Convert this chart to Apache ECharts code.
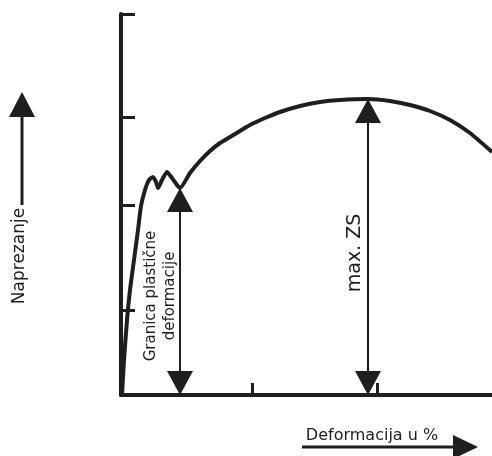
<!DOCTYPE html>
<html>
<head>
<meta charset="utf-8">
<script src="https://cdn.jsdelivr.net/npm/echarts@6/dist/echarts.min.js"></script>
<style>html,body{margin:0;padding:0;background:#fff}#c{width:492px;height:456px}</style>
</head>
<body>
<div id="c"></div>
<script>
// Deformation (x) and stress (y) in arbitrary units
const strain = [1,3,6,9,13,17,20,24,28,32,35,37,41,46,51,56,59,69,79,89,99,114,129,144,159,179,199,219,247,269,289,309,329,349,371];
const stress = [0,35,75,105,135,165,189,205,215,218,213,207,215,223,217,210,207,222,234,244,252,261,270,277,283,289,293,295,296,294,290,284,275,262,243];
const yieldIndex = 16;
const xTicks = [131, 256];
const yTicks = [85, 190, 278, 381];
const xMax = 371, yMax = 381;
const texts = {
  yName: 'Naprezanje',
  xName: 'Deformacija u %',
  yieldLabel1: 'Granica plastične',
  yieldLabel2: 'deformacije',
  maxLabel: 'max. ZS'
};

const INK = '#1e1e1e';
const curve = strain.map((x, i) => [x, stress[i]]);
let maxIdx = 0;
stress.forEach((v, i) => { if (v > stress[maxIdx]) maxIdx = i; });

function arrowSeries(x, y) {
  return {
    type: 'line', silent: true, clip: false, animation: false,
    lineStyle: { color: INK, width: 2 },
    itemStyle: { color: INK },
    symbol: 'triangle', symbolSize: [26, 24],
    data: [
      { value: [x, 0], symbolRotate: 180, symbolOffset: [0, -12] },
      { value: [x, y], symbolOffset: [0, 12] }
    ]
  };
}

const chart = echarts.init(document.getElementById('c'), null, { renderer: 'canvas' });
const FONT = 'DejaVu Sans';
chart.setOption({
  animation: false,
  backgroundColor: '#fff',
  grid: { left: 121, top: 14, width: 371, height: 381, containLabel: false },
  xAxis: {
    type: 'value', min: 0, max: xMax,
    axisLine: { show: true, lineStyle: { color: INK, width: 4 } },
    axisTick: { show: true, inside: true, length: 12, customValues: xTicks, lineStyle: { color: INK, width: 3 } },
    axisLabel: { show: false },
    splitLine: { show: false }
  },
  yAxis: {
    type: 'value', min: 0, max: yMax,
    axisLine: { show: true, lineStyle: { color: INK, width: 4 } },
    axisTick: { show: true, inside: true, length: 14, customValues: yTicks, lineStyle: { color: INK, width: 3 } },
    axisLabel: { show: false },
    splitLine: { show: false }
  },
  series: [
    {
      type: 'line', silent: true, showSymbol: false, smooth: 0.2, clip: false,
      lineStyle: { color: INK, width: 4 },
      data: curve
    },
    arrowSeries(strain[yieldIndex], stress[yieldIndex]),
    arrowSeries(strain[maxIdx], stress[maxIdx])
  ],
  graphic: [
    { type: 'text', x: 151, y: 296, rotation: Math.PI / 2,
      style: { text: texts.yieldLabel1, font: '15px "' + FONT + '"', fill: INK, align: 'center', verticalAlign: 'middle' } },
    { type: 'text', x: 170, y: 296, rotation: Math.PI / 2,
      style: { text: texts.yieldLabel2, font: '15px "' + FONT + '"', fill: INK, align: 'center', verticalAlign: 'middle' } },
    { type: 'text', x: 355, y: 253, rotation: Math.PI / 2,
      style: { text: texts.maxLabel, font: '19px "' + FONT + '"', fill: INK, align: 'center', verticalAlign: 'middle' } },
    { type: 'text', x: 20, y: 256, rotation: Math.PI / 2,
      style: { text: texts.yName, font: '17px "' + FONT + '"', fill: INK, align: 'center', verticalAlign: 'middle' } },
    { type: 'line', shape: { x1: 22, y1: 205, x2: 22, y2: 112 }, style: { stroke: INK, lineWidth: 3 } },
    { type: 'polygon', shape: { points: [[22, 92], [9, 117], [35, 117]] }, style: { fill: INK } },
    { type: 'text', x: 372, y: 436,
      style: { text: texts.xName, font: '16px "' + FONT + '"', fill: INK, align: 'center', verticalAlign: 'middle' } },
    { type: 'line', shape: { x1: 302, y1: 447, x2: 458, y2: 447 }, style: { stroke: INK, lineWidth: 3 } },
    { type: 'polygon', shape: { points: [[478, 447], [453, 435], [453, 459]] }, style: { fill: INK } }
  ]
});
</script>
</body>
</html>
